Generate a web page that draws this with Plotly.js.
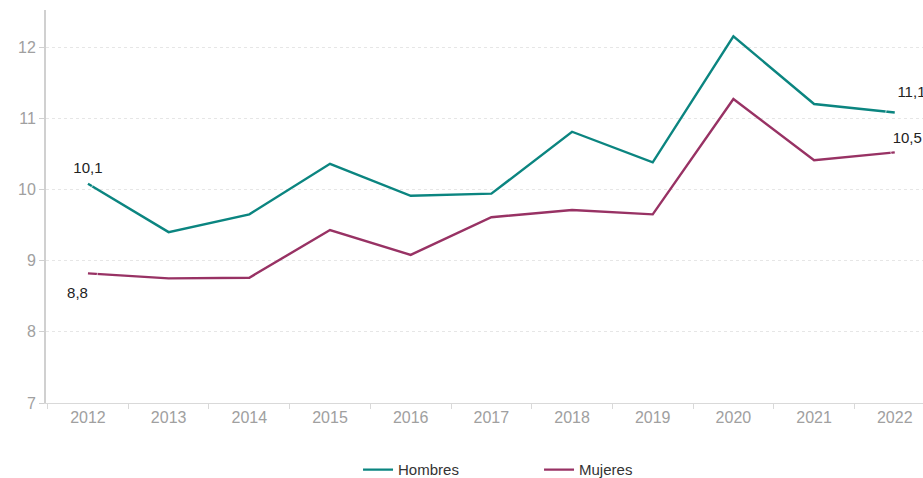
<!DOCTYPE html>
<html><head><meta charset="utf-8">
<script src="https://cdn.plot.ly/plotly-3.0.1.min.js"></script>
<style>body{margin:0;padding:0;background:#fff}#chart{width:923px;height:478px}</style>
</head><body><div id="chart"></div>
<script>
const years = ['2012','2013','2014','2015','2016','2017','2018','2019','2020','2021','2022'];
const hombres = [10.08, 9.40, 9.65, 10.36, 9.91, 9.94, 10.81, 10.38, 12.15, 11.20, 11.08];
const mujeres = [8.82, 8.75, 8.76, 9.43, 9.08, 9.61, 9.71, 9.65, 11.27, 10.41, 10.52];
const seriesNames = ['Hombres', 'Mujeres'];
const labelsH = ['10,1', '11,1'];
const labelsM = ['8,8', '10,5'];

const teal = '#0b8580';
const plum = '#983264';
const last = years.length - 1;
const labFont = {family: 'Liberation Sans, Arial, sans-serif', size: 15, color: '#222'};
const nb = n => '\u00a0'.repeat(n);

const traces = [
  {x: years, y: hombres, name: seriesNames[0], type: 'scatter', mode: 'lines',
   line: {color: teal, width: 2.4}, hoverinfo: 'skip'},
  {x: years, y: mujeres, name: seriesNames[1], type: 'scatter', mode: 'lines',
   line: {color: plum, width: 2.4}, hoverinfo: 'skip'},
  {x: [years[0], years[last]], y: [hombres[0], hombres[last]],
   text: [labelsH[0], nb(8) + labelsH[1]],
   type: 'scatter', mode: 'markers+text', textposition: ['top center', 'top center'],
   marker: {size: [10, 18], color: 'rgba(0,0,0,0)'},
   textfont: labFont, showlegend: false, hoverinfo: 'skip', cliponaxis: false},
  {x: [years[0], years[last]], y: [mujeres[0], mujeres[last]],
   text: [labelsM[0] + nb(5), nb(6) + labelsM[1]],
   type: 'scatter', mode: 'markers+text', textposition: ['bottom center', 'top center'],
   marker: {size: [19, 8], color: 'rgba(0,0,0,0)'},
   textfont: labFont, showlegend: false, hoverinfo: 'skip', cliponaxis: false}
];

const layout = {
  width: 923, height: 478,
  margin: {l: 46, r: 0, t: 10, b: 75},
  paper_bgcolor: '#fff', plot_bgcolor: '#fff',
  font: {family: 'Liberation Sans, Arial, sans-serif'},
  xaxis: {
    type: 'category', range: [-0.52, 10.35], automargin: false,
    tickson: 'boundaries', ticks: 'outside', ticklen: 5, tickcolor: '#d9d9d9',
    showline: true, linecolor: '#d9d9d9', linewidth: 1,
    showgrid: false, zeroline: false,
    tickfont: {size: 16, color: '#a0a0a0'}
  },
  yaxis: {
    range: [7, 12.52], dtick: 1, tick0: 7, automargin: false,
    ticks: 'outside', ticklen: 5, tickcolor: '#d0d0d0',
    showline: true, linecolor: '#d0d0d0', linewidth: 2,
    showgrid: true, gridcolor: '#e6e6e6', griddash: 'dot', gridwidth: 1,
    zeroline: false,
    tickfont: {size: 16, color: '#a0a0a0'}
  },
  showlegend: true,
  legend: {
    orientation: 'h', xref: 'container', yref: 'container',
    x: 0.584, xanchor: 'center', y: 0.017, yanchor: 'middle',
    entrywidth: 136, entrywidthmode: 'pixels',
    font: {size: 15, color: '#333'}
  }
};

Plotly.newPlot('chart', traces, layout, {displayModeBar: false, staticPlot: true});
</script></body></html>
